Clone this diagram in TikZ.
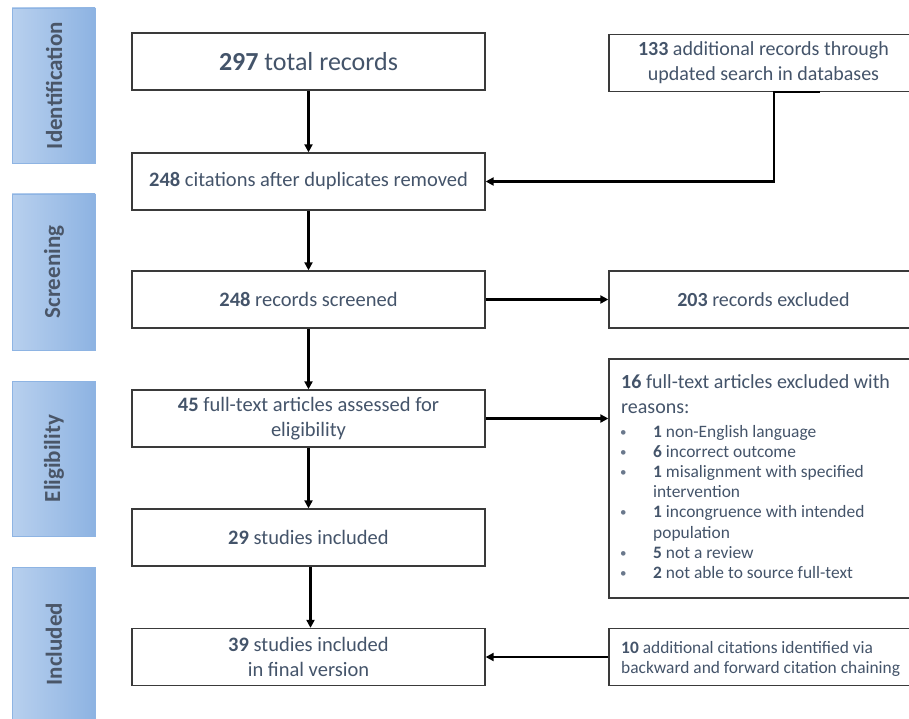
\documentclass[tikz,border=0pt]{standalone}
\usepackage{fontspec}
\setmainfont{Carlito}
\usetikzlibrary{arrows.meta}
\definecolor{txt}{HTML}{44546A}
\definecolor{phtxt}{HTML}{4A5668}
\definecolor{boxline}{HTML}{3A3A3A}
\definecolor{phl}{HTML}{B8D0EE}
\definecolor{phr}{HTML}{8DB3E2}
\definecolor{phb}{HTML}{8EB4E3}
\definecolor{bulc}{HTML}{6A788C}
\tikzset{
 box/.style={draw=boxline, line width=1.3pt, fill=white, minimum width=353pt, minimum height=57pt, inner sep=0pt, text=txt, align=center, font=\fontsize{20.5}{25}\selectfont},
 rbox/.style={box, minimum width=309pt},
 arr/.style={line width=2.2pt, -{Triangle[length=8pt,width=8pt]}},
 phasebar/.style={draw=phb, line width=0.8pt, left color=phl, right color=phr},
 phasetxt/.style={rotate=90, text=phtxt, inner sep=0pt, font=\fontsize{23}{28}\selectfont\bfseries},
 itemline/.style={anchor=base west, inner sep=0pt, text=txt, font=\fontsize{17.4}{20}\selectfont},
 bulletmark/.style={anchor=base west, inner sep=0pt, text=bulc, font=\fontsize{13}{15}\selectfont},
 headline/.style={anchor=base west, inner sep=0pt, text=txt, font=\fontsize{20}{25}\selectfont},
}
\begin{document}
\begin{tikzpicture}[x=1pt,y=-1pt]
\useasboundingbox (0,0) rectangle (909,719);
\clip (0,0) rectangle (909,719);
% phase bars
\shade[phasebar] (12,8) rectangle (95,163);
\node[phasetxt] (pid) at (54,85.5) {Identification};
\shade[phasebar] (12,194) rectangle (95,350);
\node[phasetxt] (psc) at (54,272) {Screening};
\shade[phasebar] (12,381) rectangle (95,536);
\node[phasetxt] (pel) at (54,458.5) {Eligibility};
\shade[phasebar] (12,567) rectangle (95,721);
\node[phasetxt] (pin) at (54,644) {Included};
% main column
\node[box] (b1) at (308.5,61.5) {\fontsize{26}{30}\selectfont\textbf{297} total records};
\node[box] (b2) at (308.5,181.5) {\textbf{248} citations after duplicates removed};
\node[box] (b3) at (308.5,299.5) {\textbf{248} records screened};
\node[box] (b4) at (308.5,418.5) {\textbf{45} full-text articles assessed for\\eligibility};
\node[box] (b5) at (308.5,537.5) {\textbf{29} studies included};
\node[box] (b6) at (308.5,657) {\textbf{39} studies included\\in final version};
% right column
\node[rbox, font=\fontsize{20}{25}\selectfont] (r133) at (763.5,63) {\textbf{133} additional records through\\updated search in databases};
\node[rbox, font=\fontsize{20}{25}\selectfont] (r203) at (763.5,299.5) {\textbf{203} records excluded};
\node[rbox, minimum height=239pt] (r16) at (763.5,478.5) {};
\node[headline] (r16a) at (621,388) {\textbf{16} full-text articles excluded with};
\node[headline] (r16b) at (621,413) {reasons:};
\foreach \yy/\txt [count=\k] in {437/{\textbf{1} non-English language},457/{\textbf{6} incorrect outcome},477/{\textbf{1} misalignment with specified},517/{\textbf{1} incongruence with intended},558/{\textbf{5} not a review},578/{\textbf{2} not able to source full-text}}{
 \node[itemline] (bl\k) at (653,\yy) {\txt};
 \node[bulletmark] (bb\k) at (620,\yy-1) {\textbullet};
}
\node[itemline] (cont1) at (653,497) {intervention};
\node[itemline] (cont2) at (653,538) {population};
\node[rbox] (r10) at (763.5,657) {};
\node[itemline] (r10a) at (621,653) {\textbf{10} additional citations identified via};
\node[itemline] (r10b) at (621,673) {backward and forward citation chaining};
% connectors
\draw[arr] (b1) -- (b2);
\draw[arr] (b2) -- (b3);
\draw[arr] (b3) -- (b4);
\draw[arr] (b4) -- (b5);
\draw[arr] ([xshift=2pt]b5.south) -- ([xshift=2pt]b6.north);
\draw[arr] (b3) -- (r203);
\draw[arr] (b4.east) -- (b4.east -| r16.west);
\draw[arr] (r10) -- (b6);
\coordinate (k1) at ([xshift=56.5pt]r133.south);
\coordinate (k2) at ([xshift=10.5pt]r133.south);
\draw[arr] (k1) -- (k2) |- (b2.east);
\end{tikzpicture}
\end{document}
